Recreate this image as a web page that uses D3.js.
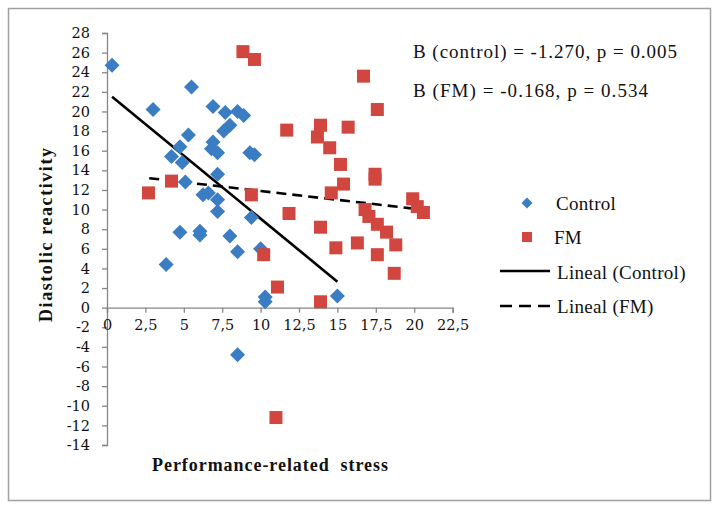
<!DOCTYPE html>
<html>
<head>
<meta charset="utf-8">
<script src="https://cdn.jsdelivr.net/npm/d3@7"></script>
<style>
  html, body { margin: 0; padding: 0; background: #fff; }
  svg { display: block; }
</style>
</head>
<body>
<svg id="chart" width="718" height="509"></svg>
<script>
// ---------- data ----------
const controlX = [0.33, 3.0, 5.5, 6.9, 7.7, 8.5, 8.9, 8.0, 7.6, 5.3, 4.75, 4.2, 4.9, 6.9, 6.8, 7.2, 9.3, 9.6,
                  7.2, 5.1, 6.25, 6.6, 7.2, 7.2, 9.4, 4.75, 6.05, 6.05, 8.0, 8.5, 10.0, 3.85, 10.3, 10.3, 15.0, 8.5];
const controlY = [24.7, 20.2, 22.5, 20.5, 19.9, 20.0, 19.6, 18.6, 18.0, 17.6, 16.4, 15.4, 14.8, 16.9, 16.2, 15.8, 15.8, 15.6,
                  13.6, 12.8, 11.5, 11.7, 11.0, 9.8, 9.2, 7.7, 7.8, 7.4, 7.3, 5.7, 6.0, 4.4, 1.1, 0.6, 1.2, -4.8];
const fmX = [2.7, 4.2, 8.85, 9.6, 11.7, 13.9, 13.7, 14.5, 15.7, 15.2, 16.7, 17.6, 17.45, 17.45, 15.4, 14.6, 9.4, 11.85,
             13.9, 14.9, 16.3, 16.8, 17.05, 17.6, 18.2, 18.8, 17.6, 18.7, 19.9, 20.2, 20.6, 10.2, 11.1, 13.9, 11.0];
const fmY = [11.7, 12.9, 26.1, 25.3, 18.1, 18.6, 17.4, 16.3, 18.4, 14.6, 23.6, 20.2, 13.6, 13.1, 12.6, 11.7, 11.5, 9.6,
             8.2, 6.1, 6.6, 10.0, 9.3, 8.5, 7.7, 6.4, 5.4, 3.5, 11.1, 10.3, 9.7, 5.4, 2.1, 0.6, -11.2];
// trend line end points [x, y]
const controlTrend = [[0.33, 21.5], [15.0, 2.65]];
const fmTrend = [[2.75, 13.2], [20.5, 10.0]];

const xTicks = [0, 2.5, 5, 7.5, 10, 12.5, 15, 17.5, 20, 22.5];
const yTicks = [-14, -12, -10, -8, -6, -4, -2, 0, 2, 4, 6, 8, 10, 12, 14, 16, 18, 20, 22, 24, 26, 28];

const seriesNames = ["Control", "FM", "Lineal (Control)", "Lineal (FM)"];
const annotations = ["B (control) = -1.270, p = 0.005", "B (FM) = -0.168, p = 0.534"];
const xTitle = "Performance-related  stress";
const yTitle = "Diastolic reactivity";

// ---------- drawing ----------
const blue = "#3a7dc2", red = "#d1473f", axisCol = "#868686";
const svg = d3.select("#chart");

svg.append("rect").attr("x", 8.5).attr("y", 8.5).attr("width", 702).attr("height", 492)
  .attr("fill", "#fff").attr("stroke", "#a0a0a0").attr("stroke-width", 1.5);

const x = d3.scaleLinear().domain([0, 22.5]).range([107, 452.6]);
const y = d3.scaleLinear().domain([-14, 28]).range([445, 33]);

const fmt = d => String(d).replace(".", ",");
const tickFont = "DejaVu Serif, serif";

// y axis
const yAxis = svg.append("g").attr("transform", `translate(${x(0)},0)`)
  .call(d3.axisLeft(y).tickValues(yTicks).tickSize(5).tickPadding(12).tickFormat(d => d));
// x axis at y = 0
const xAxis = svg.append("g").attr("transform", `translate(0,${y(0)})`)
  .call(d3.axisBottom(x).tickValues(xTicks).tickSize(5).tickPadding(7).tickFormat(fmt));
[yAxis, xAxis].forEach(g => {
  g.select(".domain").attr("stroke", axisCol).attr("stroke-width", 1.3);
  g.selectAll(".tick line").attr("stroke", axisCol).attr("stroke-width", 1.3);
  g.selectAll(".tick text").attr("fill", "#111").style("font-family", tickFont).style("font-size", "14.5px");
});

// trend lines
const line = d3.line().x(d => x(d[0])).y(d => y(d[1]));
svg.append("path").datum(controlTrend).attr("d", line).attr("stroke", "#000")
  .attr("stroke-width", 2.6).attr("fill", "none");
svg.append("path").datum(fmTrend).attr("d", line).attr("stroke", "#000")
  .attr("stroke-width", 2.6).attr("fill", "none").attr("stroke-dasharray", "10,6");

// markers
const diamond = (cx, cy, r) => `M${cx},${cy - r}L${cx + r},${cy}L${cx},${cy + r}L${cx - r},${cy}Z`;
const ctrl = controlX.map((v, i) => [v, controlY[i]]);
const fm = fmX.map((v, i) => [v, fmY[i]]);

svg.append("g").selectAll("path").data(ctrl).join("path")
  .attr("d", d => diamond(x(d[0]), y(d[1]), 7.5)).attr("fill", blue);
svg.append("g").selectAll("rect").data(fm).join("rect")
  .attr("x", d => x(d[0]) - 6.5).attr("y", d => y(d[1]) - 6.5)
  .attr("width", 13).attr("height", 13).attr("fill", red);

// annotations
const serif = "Liberation Serif, Times New Roman, serif";
const annWidths = [264, 235];
svg.selectAll("text.ann").data(annotations).join("text").attr("class", "ann")
  .attr("x", 413).attr("y", (d, i) => 58 + i * 39)
  .attr("textLength", (d, i) => annWidths[i]).attr("lengthAdjust", "spacing")
  .style("font-family", serif).style("font-size", "19px").attr("fill", "#111")
  .text(d => d);

// legend
const lg = svg.append("g");
lg.append("path").attr("d", diamond(527, 203, 5.5)).attr("fill", blue);
lg.append("rect").attr("x", 522).attr("y", 232).attr("width", 10).attr("height", 10).attr("fill", red);
lg.append("line").attr("x1", 500).attr("x2", 550).attr("y1", 271).attr("y2", 271)
  .attr("stroke", "#000").attr("stroke-width", 2.6);
lg.append("line").attr("x1", 500).attr("x2", 550).attr("y1", 306).attr("y2", 306)
  .attr("stroke", "#000").attr("stroke-width", 2.6).attr("stroke-dasharray", "12,7");
const legendPos = [[556, 203], [554, 237], [557, 272], [557, 306]];
lg.selectAll("text").data(seriesNames).join("text")
  .attr("x", (d, i) => legendPos[i][0]).attr("y", (d, i) => legendPos[i][1])
  .attr("dy", "0.35em")
  .style("font-family", serif).style("font-size", "19px").style("letter-spacing", "0.3px").attr("fill", "#111")
  .text(d => d);

// axis titles
svg.append("text").attr("x", 270).attr("y", 471).attr("text-anchor", "middle")
  .attr("textLength", 236).attr("lengthAdjust", "spacing")
  .style("font-family", serif).style("font-size", "18px").style("font-weight", "bold")
  .style("white-space", "pre").attr("fill", "#111").text(xTitle);
svg.append("text").attr("transform", "translate(52,235) rotate(-90)").attr("text-anchor", "middle")
  .attr("textLength", 174).attr("lengthAdjust", "spacing")
  .style("font-family", serif).style("font-size", "18px").style("font-weight", "bold")
  .attr("fill", "#111").text(yTitle);
</script>
</body>
</html>
